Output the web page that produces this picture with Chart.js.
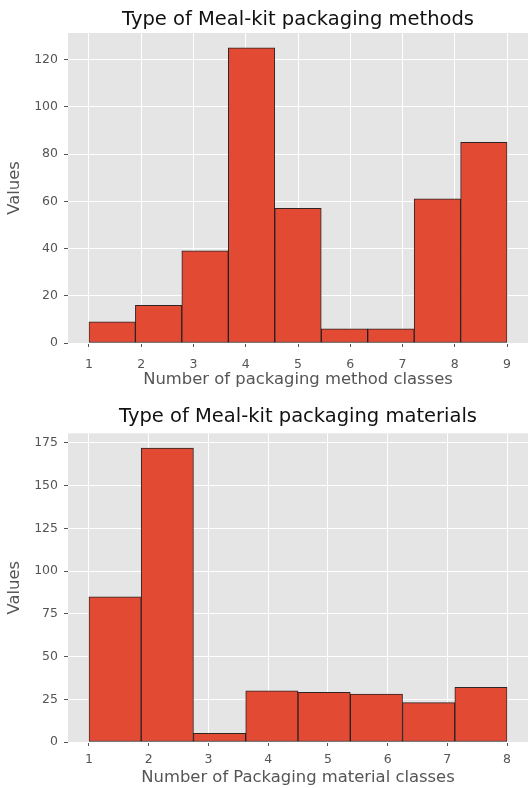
<!DOCTYPE html>
<html>
<head>
<meta charset="utf-8">
<script src="https://cdn.jsdelivr.net/npm/chart.js@4"></script>
<style>
  html, body { margin: 0; padding: 0; background: #fff; }
  .box { position: absolute; left: 0; width: 531px; height: 394px; }
  #top { top: 0; }
  #bottom { top: 394px; }
</style>
</head>
<body>
<div class="box" id="top"><canvas id="histMetodos" width="531" height="394"></canvas></div>
<div class="box" id="bottom"><canvas id="histMateriais" width="531" height="394"></canvas></div>
<script>
// histograma 1: métodos de embalagem (9 bins entre 1 e 9)
const methodRange = [1, 9];
const methodCounts = [9, 16, 39, 125, 57, 6, 6, 61, 85];
const methodXTicks = [1, 2, 3, 4, 5, 6, 7, 8, 9];
const methodYTicks = [0, 20, 40, 60, 80, 100, 120];

// histograma 2: materiais de embalagem (8 bins entre 1 e 8)
const materialRange = [1, 8];
const materialCounts = [85, 172, 5, 30, 29, 28, 23, 32];
const materialXTicks = [1, 2, 3, 4, 5, 6, 7, 8];
const materialYTicks = [0, 25, 50, 75, 100, 125, 150, 175];

const FONT = "'DejaVu Sans', sans-serif";
const TEXT = '#555555';

const fundoCinza = {
    id: 'fundoCinza',
    beforeDraw(chart) {
        const a = chart.chartArea;
        const ctx = chart.ctx;
        ctx.save();
        ctx.fillStyle = '#E5E5E5';
        ctx.fillRect(a.left, a.top, a.right - a.left, a.bottom - a.top);
        ctx.restore();
    }
};

function histograma(canvasId, range, counts, xTicks, yTicks, cfg) {
    const width = (range[1] - range[0]) / counts.length;
    const pontos = counts.map((c, i) => ({ x: range[0] + width * (i + 0.5), y: c }));
    const margin = (range[1] - range[0]) * 0.05;
    const yMax = Math.max(...counts) * 1.05;

    new Chart(document.getElementById(canvasId), {
        type: 'bar',
        data: {
            datasets: [{
                data: pontos,
                backgroundColor: '#E24A33',
                borderColor: 'rgba(25, 15, 15, 0.9)',
                borderWidth: 1,
                borderSkipped: false,
                barPercentage: 1,
                categoryPercentage: 1
            }]
        },
        options: {
            responsive: false,
            animation: false,
            layout: { padding: { left: 0, right: 3, top: 0, bottom: 0 } },
            plugins: {
                legend: { display: false },
                tooltip: { enabled: false },
                title: {
                    display: true,
                    fullSize: false,
                    text: cfg.title,
                    color: '#111',
                    font: { family: FONT, size: 19.5, weight: 'normal' },
                    padding: cfg.titlePad
                }
            },
            scales: {
                x: {
                    type: 'linear',
                    offset: false,
                    min: range[0] - margin,
                    max: range[1] + margin,
                    afterBuildTicks: s => { s.ticks = xTicks.map(v => ({ value: v })); },
                    afterFit: s => { s.height = cfg.xHeight; },
                    grid: { offset: false, color: '#FFFFFF', lineWidth: 1, tickColor: TEXT, tickLength: 4 },
                    border: { display: false },
                    ticks: { color: TEXT, font: { family: FONT, size: 12.5 }, padding: cfg.xTickPad, maxRotation: 0 },
                    title: {
                        display: true,
                        text: cfg.xLabel,
                        color: TEXT,
                        font: { family: FONT, size: 16.4 },
                        padding: { top: 0, bottom: cfg.xTitlePad }
                    }
                },
                y: {
                    min: 0,
                    max: yMax,
                    afterBuildTicks: s => { s.ticks = yTicks.map(v => ({ value: v })); },
                    afterFit: s => { s.width = 68; },
                    grid: { color: '#FFFFFF', lineWidth: 1, tickColor: TEXT, tickLength: 4 },
                    border: { display: false },
                    ticks: { color: TEXT, font: { family: FONT, size: 12.5 }, padding: 6 },
                    title: {
                        display: true,
                        text: 'Values',
                        color: TEXT,
                        font: { family: FONT, size: 16.4 },
                        padding: { top: 5, bottom: 0 }
                    }
                }
            }
        },
        plugins: [fundoCinza]
    });
}

histograma('histMetodos', methodRange, methodCounts, methodXTicks, methodYTicks, {
    title: 'Type of Meal-kit packaging methods',
    xLabel: 'Number of packaging method classes',
    titlePad: { top: 8, bottom: 1.6 },
    xHeight: 51,
    xTickPad: 10,
    xTitlePad: 4
});

histograma('histMateriais', materialRange, materialCounts, materialXTicks, materialYTicks, {
    title: 'Type of Meal-kit packaging materials',
    xLabel: 'Number of Packaging material classes',
    titlePad: { top: 11, bottom: 4.9 },
    xHeight: 46,
    xTickPad: 6,
    xTitlePad: 0
});
</script>
</body>
</html>
